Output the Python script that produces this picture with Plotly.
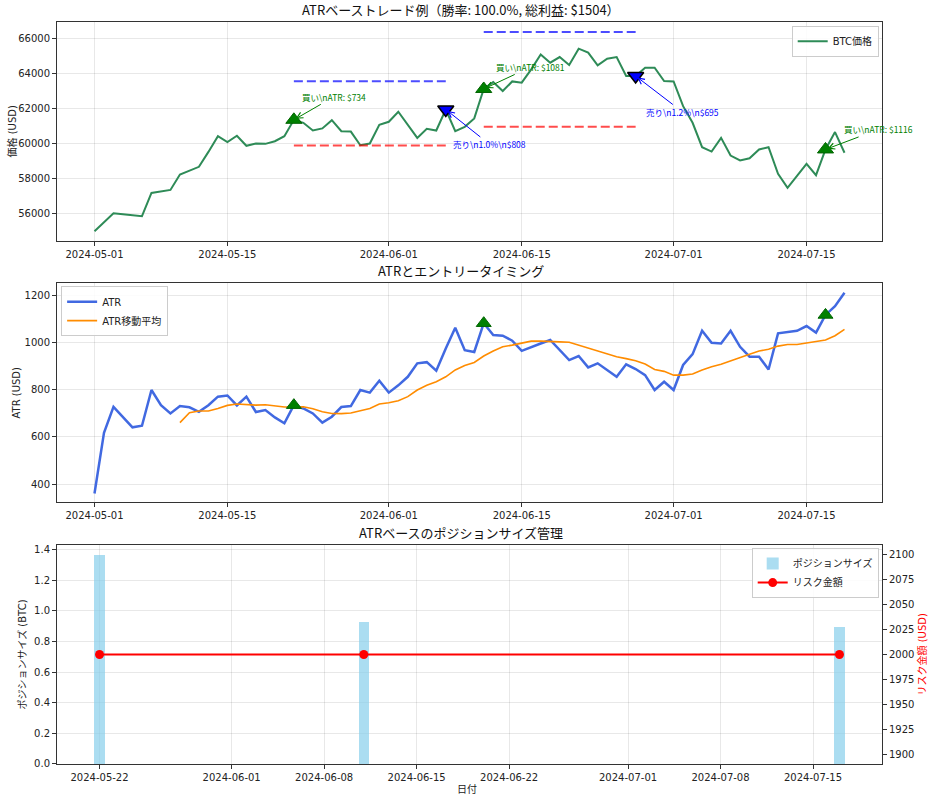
import pandas as pd
import plotly.graph_objects as go

# ---------------- data ----------------
start_date = "2024-05-01"
n_days = 80
dates = pd.date_range(start_date, periods=n_days, freq="D")

btc_price = [
    55010, 55520, 56040, 55980, 55920, 55870, 57200, 57300, 57370, 58250,
    58480, 58690, 59540, 60440, 60100, 60460, 59890, 60020, 60000, 60150,
    60440, 61370, 61200, 60760, 60880, 61350, 60720, 60700, 59920, 60020,
    61090, 61260, 61830, 61100, 60340, 60860, 60760, 61960, 60720, 60970,
    61450, 63130, 63520, 63010, 63560, 63490, 64250, 65100, 64630, 64950,
    64500, 65430, 65200, 64480, 64860, 64950, 63870, 63870, 64340, 64340,
    63580, 63560, 62150, 61200, 59810, 59560, 60340, 59330, 59050, 59180,
    59680, 59810, 58290, 57490, 58150, 58860, 58210, 59680, 60670, 59490,
]

atr = [
    360, 617, 727, 682, 640, 647, 798, 734, 699, 730,
    725, 706, 734, 770, 775, 733, 770, 705, 713, 682,
    657, 734, 720, 699, 660, 685, 726, 730, 798, 787,
    837, 787, 818, 854, 911, 916, 880, 974, 1062, 967,
    959, 1081, 1031, 1028, 1007, 964, 981, 995, 1010, 967,
    925, 942, 894, 911, 883, 854, 907, 887, 861, 798,
    833, 798, 904, 950, 1049, 998, 995, 1049, 981, 939,
    939, 885, 1038, 1043, 1049, 1069, 1041, 1116, 1153, 1210,
]

atr_ma = [None] * 9 + [
    660, 702, 709, 709, 720, 733, 739, 737, 734, 736,
    730, 726, 726, 727, 719, 706, 699, 698, 701, 709,
    720, 739, 744, 753, 770, 798, 818, 833, 854, 883,
    902, 915, 942, 963, 981, 988, 995, 1005, 1005, 1005,
    1002, 1000, 988, 974, 963, 950, 939, 931, 922, 908,
    885, 877, 861, 861, 866, 883, 897, 907, 922, 935,
    950, 963, 971, 984, 991, 991, 998, 1002, 1010, 1028,
    1055,
]

entry_idx = [21, 41, 77]
entry_atr = [734, 1081, 1116]
exit_idx = [37, 57]
exit_pct = [1.0, 1.2]
exit_pnl = [808, 695]
tp_levels = [63570, 66380]
sl_levels = [59900, 60970]

position_size = [1.362, 0.925, 0.896]
risk_amount = [2000, 2000, 2000]

win_rate = 100.0
total_profit = 1504

# ---------------- figure ----------------
entry_dates = [dates[i] for i in entry_idx]
entry_prices = [btc_price[i] for i in entry_idx]
exit_dates = [dates[i] for i in exit_idx]
exit_prices = [btc_price[i] for i in exit_idx]

TICKF = dict(family="DejaVu Sans, Noto Sans CJK JP", size=10, color="#222")
LABF = "DejaVu Sans, Noto Sans CJK JP"
CJK = "Noto Sans CJK JP, DejaVu Sans"
GRID = "rgba(0,0,0,0.09)"

fig = go.Figure()

# top: price
fig.add_trace(go.Scatter(x=dates, y=btc_price, mode="lines", name="BTC価格",
                         line=dict(color="#2E8B57", width=2), xaxis="x", yaxis="y",
                         legend="legend"))
for k in range(len(tp_levels)):
    xs = [dates[entry_idx[k]], dates[exit_idx[k]]]
    fig.add_trace(go.Scatter(x=xs, y=[tp_levels[k]] * 2, mode="lines", showlegend=False,
                             line=dict(color="rgba(0,0,255,0.7)", width=2, dash="9px,4px"),
                             xaxis="x", yaxis="y"))
    fig.add_trace(go.Scatter(x=xs, y=[sl_levels[k]] * 2, mode="lines", showlegend=False,
                             line=dict(color="rgba(255,0,0,0.7)", width=2, dash="9px,4px"),
                             xaxis="x", yaxis="y"))
fig.add_trace(go.Scatter(x=entry_dates, y=entry_prices, mode="markers", showlegend=False,
                         marker=dict(symbol="triangle-up", size=14, color="green",
                                     line=dict(color="darkgreen", width=1)),
                         xaxis="x", yaxis="y"))
fig.add_trace(go.Scatter(x=exit_dates, y=exit_prices, mode="markers", showlegend=False,
                         marker=dict(symbol="triangle-down", size=14, color="blue",
                                     line=dict(color="black", width=1.5)),
                         xaxis="x", yaxis="y"))

# middle: ATR
fig.add_trace(go.Scatter(x=dates, y=atr, mode="lines", name="ATR",
                         line=dict(color="#4169E1", width=2.5), xaxis="x2", yaxis="y2",
                         legend="legend2"))
fig.add_trace(go.Scatter(x=dates, y=atr_ma, mode="lines", name="ATR移動平均",
                         line=dict(color="#FF8C00", width=1.6), xaxis="x2", yaxis="y2",
                         legend="legend2"))
fig.add_trace(go.Scatter(x=entry_dates, y=entry_atr, mode="markers", showlegend=False,
                         marker=dict(symbol="triangle-up", size=13, color="green",
                                     line=dict(color="darkgreen", width=1)),
                         xaxis="x2", yaxis="y2"))

# bottom: position size & risk
fig.add_trace(go.Bar(x=entry_dates, y=position_size, name="ポジションサイズ",
                     marker=dict(color="rgba(135,206,235,0.7)", line=dict(width=0)),
                     width=0.8 * 86400000, xaxis="x3", yaxis="y3", legend="legend3"))
fig.add_trace(go.Scatter(x=entry_dates, y=risk_amount, mode="lines+markers", name="リスク金額",
                         line=dict(color="red", width=2), marker=dict(color="red", size=9),
                         xaxis="x3", yaxis="y4", legend="legend3"))

# annotations
ann = []
buy_offsets = [(40, -23), (47, -22), (53, -20)]
for k, i in enumerate(entry_idx):
    ax, ay = buy_offsets[k]
    ann.append(dict(x=dates[i], y=btc_price[i], xref="x", yref="y",
                    text=f"買い\\nATR: ${entry_atr[k]}", showarrow=True,
                    ax=ax, ay=ay, arrowhead=5, arrowsize=1.2, arrowwidth=1,
                    arrowcolor="green", standoff=2,
                    font=dict(family=CJK, size=8.5, color="green")))
sell_offsets = [(44, 35), (47, 36)]
for k, i in enumerate(exit_idx):
    ax, ay = sell_offsets[k]
    ann.append(dict(x=dates[i], y=btc_price[i], xref="x", yref="y",
                    text=f"売り\\n{exit_pct[k]:.1f}%\\n${exit_pnl[k]}", showarrow=True,
                    ax=ax, ay=ay, arrowhead=5, arrowsize=1.2, arrowwidth=1,
                    arrowcolor="blue", standoff=2,
                    font=dict(family=CJK, size=8.5, color="blue")))

D_TOP = [0.7049, 1.0]
D_MID = [0.3531, 0.6482]
D_BOT = [0.0, 0.2951]

titles = [
    (f"ATRベーストレード例（勝率: {win_rate:.1f}%, 総利益: ${total_profit}）", D_TOP[1]),
    ("ATRとエントリータイミング", D_MID[1]),
    ("ATRベースのポジションサイズ管理", D_BOT[1]),
]
for t, yy in titles:
    ann.append(dict(x=0.49, y=yy, xref="paper", yref="paper", text=t, showarrow=False,
                    xanchor="center", yanchor="bottom", yshift=1,
                    font=dict(family=CJK, size=13, color="#111")))
ann.append(dict(x=0.497, y=0, xref="paper", yref="paper", text="日付", showarrow=False,
                xanchor="center", yanchor="top", yshift=-15,
                font=dict(family=CJK, size=10, color="#222")))

# axis titles as rotated annotations
ytitles = [
    ("価格 (USD)", 0, sum(D_TOP) / 2, -45, "#222"),
    ("ATR (USD)", 0, sum(D_MID) / 2, -40, "#222"),
    ("ポジションサイズ (BTC)", 0, sum(D_BOT) / 2, -35, "#222"),
    ("リスク金額 (USD)", 1, sum(D_BOT) / 2, 40, "red"),
]
for t, xx, yy, xs, col in ytitles:
    ann.append(dict(x=xx, y=yy, xref="paper", yref="paper", text=t, showarrow=False,
                    textangle=-90, xanchor="center", yanchor="middle", xshift=xs,
                    font=dict(family=LABF, size=10, color=col)))

day = pd.Timedelta(days=1)
top_range = [dates[0] - 3.95 * day, dates[-1] + 3.95 * day]
bot_range = [entry_dates[0] - 3.22 * day, entry_dates[-1] + 3.22 * day]

def xax(domain_anchor, rng, tickvals):
    return dict(anchor=domain_anchor, domain=[0, 1], type="date", range=rng,
                tickvals=tickvals, tickformat="%Y-%m-%d", tickfont=TICKF,
                showgrid=True, gridcolor=GRID, showline=True, mirror=True,
                linecolor="#333", linewidth=1, ticks="outside", ticklen=4,
                tickcolor="#333", zeroline=False, automargin=False)

def yax(domain, rng, dtick, **kw):
    d = dict(domain=domain, range=rng, dtick=dtick, tickfont=TICKF,
             showgrid=True, gridcolor=GRID, showline=True, mirror=True,
             linecolor="#333", linewidth=1, ticks="outside", ticklen=4,
             tickcolor="#333", zeroline=False, automargin=False)
    d.update(kw)
    return d

top_ticks = pd.to_datetime(["2024-05-01", "2024-05-15", "2024-06-01", "2024-06-15", "2024-07-01", "2024-07-15"])
bot_ticks = pd.to_datetime(["2024-05-22", "2024-06-01", "2024-06-08", "2024-06-15", "2024-06-22",
                            "2024-07-01", "2024-07-08", "2024-07-15"])

legend_common = dict(bgcolor="rgba(255,255,255,0.85)", bordercolor="#ccc", borderwidth=1,
                     font=dict(family=LABF, size=10, color="#222"),
                     itemwidth=30, tracegroupgap=0)

fig.update_layout(
    width=933, height=800,
    margin=dict(l=57, r=51, t=22, b=36, autoexpand=False),
    plot_bgcolor="white", paper_bgcolor="white",
    showlegend=True,
    xaxis=xax("y", top_range, top_ticks),
    yaxis=yax(D_TOP, [54460, 66950], 2000, tickformat="d"),
    xaxis2=xax("y2", top_range, top_ticks),
    yaxis2=yax(D_MID, [324, 1251], 200, tickformat="d"),
    xaxis3=xax("y3", bot_range, bot_ticks),
    yaxis3=yax(D_BOT, [0, 1.43], 0.2, tickformat=".1f"),
    yaxis4=dict(overlaying="y3", anchor="x3", side="right", range=[1890, 2110], dtick=25,
                tickfont=TICKF, showgrid=False, ticks="outside", ticklen=4, tickcolor="#333",
                zeroline=False, showline=False, automargin=False, tickformat="d"),
    legend=dict(x=0.996, y=0.995, xanchor="right", yanchor="top", **legend_common),
    legend2=dict(x=0.005, y=0.644, xanchor="left", yanchor="top", **legend_common),
    legend3=dict(x=0.996, y=0.291, xanchor="right", yanchor="top", **legend_common),
    annotations=ann,
    bargap=0,
)

fig.write_html("out.html",
               config={"displayModeBar": False},
               post_script="document.body.style.margin='0';document.body.style.overflow='hidden';")
